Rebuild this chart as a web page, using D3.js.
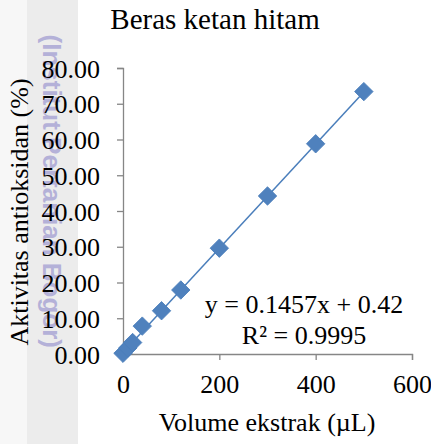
<!DOCTYPE html>
<html>
<head>
<meta charset="utf-8">
<script src="https://cdn.jsdelivr.net/npm/d3@7"></script>
<style>
  body { margin: 0; background: #fff; }
  svg { display: block; }
</style>
</head>
<body>
<svg id="chart" width="431" height="444"></svg>
<script>
// data
var volume = [0, 10, 20, 40, 80, 120, 200, 300, 400, 500];
var aktivitas = [0.2, 1.7, 3.2, 7.8, 12.1, 17.9, 29.6, 44.2, 58.8, 73.4];
var xTicks = [0, 200, 400, 600];
var yTicks = [0, 10, 20, 30, 40, 50, 60, 70, 80];
var slope = 0.1457, intercept = 0.42;
var eqLines = ["y = 0.1457x + 0.42", "R\u00B2 = 0.9995"];

var width = 431, height = 444;
var svg = d3.select("#chart");
var serif = "'Liberation Serif', 'Times New Roman', serif";
var blue = "#4A7EBB";

// watermark strip on the left
svg.append("rect").attr("x", 0).attr("y", 0).attr("width", 27).attr("height", height).attr("fill", "#f7f7f7");
svg.append("rect").attr("x", 27).attr("y", 0).attr("width", 51).attr("height", height).attr("fill", "#ececec");
svg.append("text")
  .attr("transform", "translate(52,348) rotate(90)")
  .attr("text-anchor", "end")
  .attr("dominant-baseline", "central")
  .style("font-family", "'Liberation Sans', Arial, sans-serif")
  .style("font-weight", "bold")
  .style("font-size", "26px")
  .style("fill", "#b4b1d8")
  .text("(Institut Pertanian Bogor)");

var x = d3.scaleLinear().domain([0, 600]).range([123, 412]);
var y = d3.scaleLinear().domain([0, 80]).range([354, 68]);

// axes
var xAxis = svg.append("g").attr("transform", "translate(0,354)")
  .call(d3.axisBottom(x).tickValues(xTicks).tickSize(6).tickPadding(15).tickFormat(d3.format("d")));
var yAxis = svg.append("g").attr("transform", "translate(123,0)")
  .call(d3.axisLeft(y).tickValues(yTicks).tickSize(6).tickPadding(17).tickFormat(d3.format(".2f")));

[xAxis, yAxis].forEach(function(g){
  g.select(".domain").attr("stroke", "#868686").attr("stroke-width", 1.3);
  g.selectAll(".tick line").attr("stroke", "#868686").attr("stroke-width", 1.3);
  g.selectAll(".tick text").style("font-family", serif).style("font-size", "26px").attr("fill", "#000");
});
yAxis.selectAll(".tick text").attr("dy", "0.35em");

// trendline
svg.append("line")
  .attr("x1", x(d3.min(volume))).attr("y1", y(slope * d3.min(volume) + intercept))
  .attr("x2", x(d3.max(volume))).attr("y2", y(slope * d3.max(volume) + intercept))
  .attr("stroke", blue).attr("stroke-width", 1.5);

// markers (diamonds)
var diamond = d3.symbol().type(d3.symbolSquare).size(170);
svg.selectAll(".pt")
  .data(volume)
  .enter()
  .append("path")
  .attr("class", "pt")
  .attr("d", diamond)
  .attr("transform", function(d, i){ return "translate(" + x(d) + "," + y(aktivitas[i]) + ") rotate(45)"; })
  .attr("fill", "#4F81BD")
  .attr("stroke", blue)
  .attr("stroke-width", 0.8);

// trendline equation
svg.selectAll(".eq")
  .data(eqLines)
  .enter()
  .append("text")
  .attr("x", 304)
  .attr("y", function(d, i){ return 313 + i * 31; })
  .attr("text-anchor", "middle")
  .style("font-family", serif)
  .style("font-size", "26px")
  .text(function(d){ return d; });

// title
svg.append("text")
  .attr("x", 215).attr("y", 29)
  .attr("text-anchor", "middle")
  .style("font-family", serif)
  .style("font-size", "29px")
  .text("Beras ketan hitam");

// axis titles
svg.append("text")
  .attr("x", 267).attr("y", 431)
  .attr("text-anchor", "middle")
  .style("font-family", serif)
  .style("font-size", "26px")
  .text("Volume ekstrak (\u00B5L)");

svg.append("text")
  .attr("transform", "translate(28,212) rotate(-90)")
  .attr("text-anchor", "middle")
  .style("font-family", serif)
  .style("font-size", "26px")
  .text("Aktivitas antioksidan (%)");
</script>
</body>
</html>
